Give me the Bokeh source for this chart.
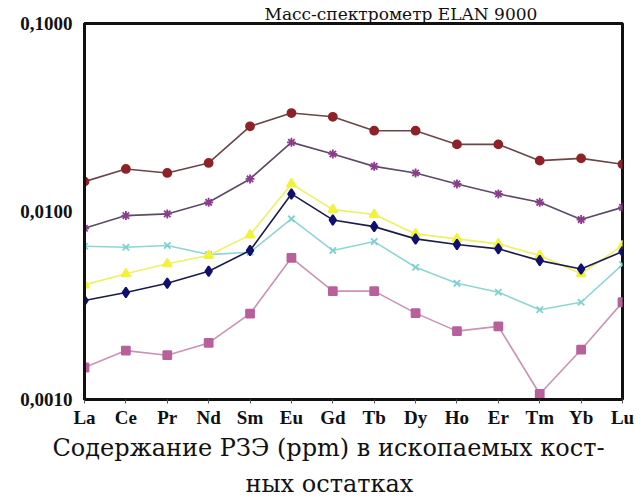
from bokeh.plotting import figure
from bokeh.models import Range1d, FixedTicker, LogAxis, LogScale, CustomJSTickFormatter, Title
from bokeh.embed import file_html
from bokeh.resources import INLINE

categories = ["La", "Ce", "Pr", "Nd", "Sm", "Eu", "Gd", "Tb", "Dy", "Ho", "Er", "Tm", "Yb", "Lu"]

s_navy = [0.00336, 0.00371, 0.00415, 0.00481, 0.00620, 0.01240, 0.00902, 0.00831, 0.00715, 0.00667, 0.00633, 0.00548, 0.00495, 0.00612]
s_pink = [0.00148, 0.00182, 0.00172, 0.00200, 0.00286, 0.00567, 0.00377, 0.00377, 0.00288, 0.00231, 0.00245, 0.00107, 0.00184, 0.00329]
s_yellow = [0.00407, 0.00466, 0.00527, 0.00583, 0.00751, 0.01402, 0.01023, 0.00963, 0.00760, 0.00715, 0.00673, 0.00583, 0.00466, 0.00659]
s_cyan = [0.00653, 0.00645, 0.00659, 0.00590, 0.00607, 0.00913, 0.00620, 0.00692, 0.00505, 0.00415, 0.00372, 0.00300, 0.00329, 0.00522]
s_purple = [0.00814, 0.00951, 0.00971, 0.01119, 0.01490, 0.02332, 0.02023, 0.01738, 0.01603, 0.01402, 0.01240, 0.01119, 0.00906, 0.01052]
s_brown = [0.01442, 0.01684, 0.01603, 0.01813, 0.02838, 0.0334, 0.0319, 0.0269, 0.0269, 0.02275, 0.02275, 0.01864, 0.01917, 0.01782]

y_ticks = [0.001, 0.01, 0.1]
title_text = "Масс-спектрометр ELAN 9000"
caption_1 = "Содержание РЗЭ (ppm) в ископаемых кост-"
caption_2 = "ных остатках"

x = list(range(len(categories)))

p = figure(width=643, height=503, output_backend="svg", toolbar_location=None,
           x_range=Range1d(0, len(categories) - 1),
           y_range=Range1d(0.001, 0.1), y_axis_location=None)
p.y_scale = LogScale()
p.min_border_left = 84
p.min_border_right = 21
p.min_border_top = 23
p.min_border_bottom = 104
p.xgrid.visible = False
p.ygrid.visible = False
p.outline_line_color = "#111111"
p.outline_line_width = 3
p.background_fill_color = "white"
p.border_fill_color = "white"

font = "Liberation Serif"
cap_font = "DejaVu Serif"

# x axis
xa = p.xaxis[0]
xa.ticker = FixedTicker(ticks=x)
xa.major_label_overrides = {i: c for i, c in enumerate(categories)}
xa.minor_tick_line_color = None
xa.major_tick_in = 0
xa.major_tick_out = 4
xa.axis_line_color = "#111111"
xa.axis_line_width = 3
xa.major_tick_line_color = "#555555"
xa.major_label_standoff = 3
xa.major_label_text_font = font
xa.major_label_text_font_style = "bold"
xa.major_label_text_font_size = "19px"
xa.major_label_text_color = "#111111"

# y axis (log)
ya = LogAxis(ticker=FixedTicker(ticks=y_ticks),
             formatter=CustomJSTickFormatter(code="return tick.toFixed(4).replace('.', ',');"))
ya.minor_tick_line_color = None
ya.major_tick_in = 0
ya.major_tick_out = 0
ya.axis_line_color = "#111111"
ya.axis_line_width = 3
ya.major_label_standoff = 12
ya.major_label_text_font = font
ya.major_label_text_font_style = "bold"
ya.major_label_text_font_size = "19px"
ya.major_label_text_color = "#111111"
p.add_layout(ya, "left")

series = [
    (s_brown, "circle", "#8e2228", "#6a4648", 8),
    (s_purple, "asterisk", "#8c3c8c", "#5e4a68", 9),
    (s_cyan, "x", "#7fd0d0", "#8ed6d6", 9),
    (s_yellow, "triangle", "#f2f23a", "#f0f060", 9),
    (s_navy, "diamond", "#10106e", "#1c1c4c", 10),
    (s_pink, "square", "#b8609c", "#cc92b4", 8),
]
for vals, marker, mcol, lcol, size in series:
    p.line(x, vals, line_color=lcol, line_width=1.6)
    p.scatter(x, vals, marker=marker, size=size, fill_color=mcol, line_color=mcol, line_width=1.8)

p.add_layout(Title(text=title_text, align="left", offset=180, standoff=0,
                   text_font=cap_font, text_font_style="normal", text_font_size="17px",
                   text_color="#111111"), "above")
p.add_layout(Title(text=caption_1, align="left", offset=-32, standoff=7, vertical_align="top",
                   text_font=cap_font, text_font_style="normal", text_font_size="24px",
                   text_color="#111111"), "below")
p.add_layout(Title(text=caption_2, align="left", offset=161, standoff=5, vertical_align="top",
                   text_font=cap_font, text_font_style="normal", text_font_size="24px",
                   text_color="#111111"), "below")

open("out.html", "w").write(file_html(p, INLINE))
